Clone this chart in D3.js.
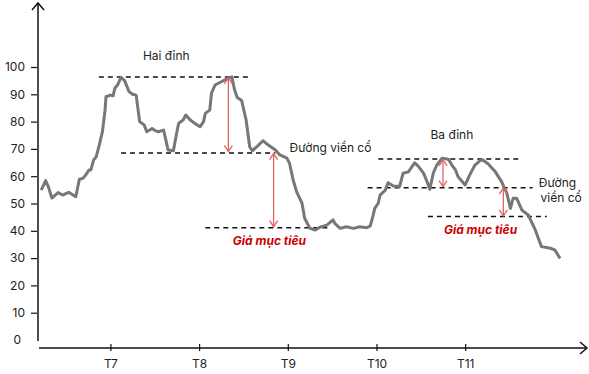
<!DOCTYPE html>
<html>
<head>
<meta charset="utf-8">
<script src="https://cdn.jsdelivr.net/npm/d3@7"></script>
<style>
  body { margin: 0; background: #fff; }
  svg text { font-family: Inter, "Noto Sans", sans-serif; }
</style>
</head>
<body>
<div id="chart"></div>
<script>
// month position (T7 = 7 ...) and price
const months = [6.22, 6.27, 6.30, 6.34, 6.41, 6.46, 6.53, 6.61, 6.65, 6.69, 6.72, 6.76, 6.78, 6.81, 6.84, 6.88, 6.91, 6.94, 6.95, 7.00,
	7.03, 7.05, 7.08, 7.12, 7.16, 7.21, 7.25, 7.29, 7.33, 7.38, 7.41, 7.47, 7.51, 7.54, 7.60, 7.63, 7.65, 7.71, 7.75, 7.77,
	7.82, 7.85, 7.90, 7.95, 8.01, 8.05, 8.07, 8.12, 8.14, 8.18, 8.25, 8.33, 8.37, 8.40, 8.43, 8.48, 8.53, 8.57, 8.60, 8.67,
	8.72, 8.78, 8.86, 8.91, 8.99, 9.02, 9.06, 9.10, 9.16, 9.19, 9.25, 9.31, 9.36, 9.44, 9.51, 9.53, 9.59, 9.66, 9.74, 9.81,
	9.89, 9.93, 9.96, 9.98, 10.02, 10.04, 10.10, 10.13, 10.19, 10.26, 10.30, 10.36, 10.40, 10.43, 10.47, 10.53, 10.57, 10.60, 10.64, 10.68,
	10.74, 10.81, 10.85, 10.89, 10.92, 11.00, 11.05, 11.11, 11.17, 11.20, 11.26, 11.34, 11.41, 11.47, 11.51, 11.54, 11.58, 11.64, 11.71, 11.79,
	11.86, 11.96, 12.01, 12.07];
const prices = [54.9, 58.4, 56.2, 52.0, 54.0, 53.1, 54.1, 52.5, 58.9, 59.2, 60.4, 62.3, 62.3, 65.9, 67.1, 72.1, 76.3, 84.2, 89.1, 89.7,
	89.4, 92.2, 93.4, 96.2, 95.0, 91.0, 90.0, 89.7, 80.0, 78.8, 76.3, 77.5, 76.6, 76.3, 76.9, 72.6, 69.6, 69.3, 76.3, 79.4,
	80.6, 82.4, 80.6, 79.4, 78.1, 80.0, 83.0, 84.2, 90.4, 93.4, 94.6, 95.9, 96.4, 91.6, 88.8, 87.7, 80.6, 70.8, 69.3, 71.4,
	73.0, 71.4, 69.6, 67.8, 66.6, 64.7, 58.6, 54.3, 50.1, 44.6, 40.9, 40.3, 41.3, 42.1, 44.0, 42.7, 40.9, 41.5, 40.9, 41.5,
	41.1, 41.8, 45.4, 48.2, 50.1, 53.1, 54.9, 57.6, 56.4, 56.2, 61.1, 61.6, 63.5, 64.9, 63.7, 61.1, 58.0, 55.2, 61.1, 64.1,
	66.6, 66.2, 64.1, 62.3, 59.8, 56.8, 60.4, 64.1, 65.8, 65.9, 64.5, 61.6, 58.0, 53.7, 48.2, 51.9, 51.9, 47.6, 45.8, 40.3,
	34.2, 33.6, 33.0, 29.9];

const yTicks = [0, 10, 20, 30, 40, 50, 60, 70, 80, 90, 100];
const xTicks = [7, 8, 9, 10, 11];
const xLabels = ["T7", "T8", "T9", "T10", "T11"];

// dashed levels: [from month, to month, price]
const levels = [
	[6.87, 8.57, 96.3], [7.12, 8.86, 68.5], [8.07, 9.48, 41.1],
	[10.02, 11.62, 66.3], [9.90, 11.76, 55.8], [10.58, 11.92, 45.2]
];
// double-headed red arrows: [month, from price, to price]
const arrows = [
	[8.33, 96.0, 69.0], [8.84, 68.3, 41.5],
	[10.75, 66.0, 56.2], [11.43, 55.6, 45.5]
];
// text notes: [month, price, text, anchor, red]
const notes = [
	[7.63, 104, "Hai đỉnh", "middle", false],
	[9.02, 70.5, "Đường viền cổ", "start", false],
	[8.38, 36.5, "Giá mục tiêu", "start", true],
	[10.85, 75, "Ba đỉnh", "middle", false],
	[11.83, 57.5, "Đường", "start", false],
	[11.85, 52, "viền cổ", "start", false],
	[10.76, 40.2, "Giá mục tiêu", "start", true]
];

const width = 589, height = 374;
const svg = d3.select("#chart").append("svg")
	.attr("width", width)
	.attr("height", height);

const x = d3.scaleLinear().domain([7, 11]).range([110.4, 465.2]);
const y = d3.scaleLinear().domain([0, 100]).range([340, 67]);

// axes lines with arrows
svg.append("line").attr("x1", 38).attr("x2", 38).attr("y1", 3).attr("y2", 341)
	.attr("stroke", "#111").attr("stroke-width", 1.5);
svg.append("path").attr("d", "M32,10 L38,3 L44,10")
	.attr("fill", "none").attr("stroke", "#111").attr("stroke-width", 1.5);
svg.append("line").attr("x1", 39).attr("x2", 587).attr("y1", 348).attr("y2", 348)
	.attr("stroke", "#111").attr("stroke-width", 1.5);
svg.append("path").attr("d", "M580,342 L587,348 L580,354")
	.attr("fill", "none").attr("stroke", "#111").attr("stroke-width", 1.5);

// Y axis
const yAxis = svg.append("g")
	.attr("transform", "translate(37,0)")
	.call(d3.axisLeft(y).tickValues(yTicks).tickSize(6).tickPadding(6));
yAxis.select(".domain").remove();
yAxis.selectAll("line").attr("stroke", "#111").attr("stroke-width", 1.2);
yAxis.selectAll(".tick").filter(d => d === 0).select("line").remove();
yAxis.selectAll(".tick").filter(d => d === 0).select("text").attr("x", -16).attr("dy", "0.3em");
yAxis.selectAll("text").attr("font-size", 12).attr("fill", "#222");

// X axis
const xAxis = svg.append("g")
	.attr("transform", "translate(0,344)")
	.call(d3.axisBottom(x).tickValues(xTicks).tickSize(7).tickPadding(8)
		.tickFormat((d, i) => xLabels[i]));
xAxis.select(".domain").remove();
xAxis.selectAll("line").attr("stroke", "#111").attr("stroke-width", 1.2);
xAxis.selectAll("text").attr("font-size", 12).attr("fill", "#222");

// dashed levels
svg.append("g").selectAll("line")
	.data(levels)
	.join("line")
		.attr("x1", d => x(d[0]))
		.attr("x2", d => x(d[1]))
		.attr("y1", d => y(d[2]))
		.attr("y2", d => y(d[2]))
		.attr("stroke", "#111")
		.attr("stroke-width", 1.5)
		.attr("stroke-dasharray", "5,4");

// price line
const data = months.map((m, i) => ({m: m, p: prices[i]}));
svg.append("path")
	.datum(data)
	.attr("fill", "none")
	.attr("stroke", "#777")
	.attr("stroke-width", 3)
	.attr("stroke-linejoin", "round")
	.attr("d", d3.line().x(d => x(d.m)).y(d => y(d.p)));

// red arrows
const ag = svg.append("g").attr("stroke", "#e06666").attr("stroke-width", 1.3).attr("fill", "none");
arrows.forEach(a => {
	const ax = x(a[0]), y1 = y(a[1]), y2 = y(a[2]);
	ag.append("line").attr("x1", ax).attr("x2", ax).attr("y1", y1).attr("y2", y2);
	ag.append("path").attr("d", `M${ax - 4},${y1 + 6} L${ax},${y1} L${ax + 4},${y1 + 6}`);
	ag.append("path").attr("d", `M${ax - 4},${y2 - 6} L${ax},${y2} L${ax + 4},${y2 - 6}`);
});

// notes
svg.append("g").selectAll("text")
	.data(notes)
	.join("text")
		.attr("x", d => x(d[0]))
		.attr("y", d => y(d[1]))
		.attr("dy", "0.35em")
		.attr("text-anchor", d => d[3])
		.attr("font-size", 12)
		.attr("font-weight", d => d[4] ? "bold" : "normal")
		.attr("font-style", d => d[4] ? "italic" : "normal")
		.attr("fill", d => d[4] ? "#cc0000" : "#222")
		.text(d => d[2]);
</script>
</body>
</html>
